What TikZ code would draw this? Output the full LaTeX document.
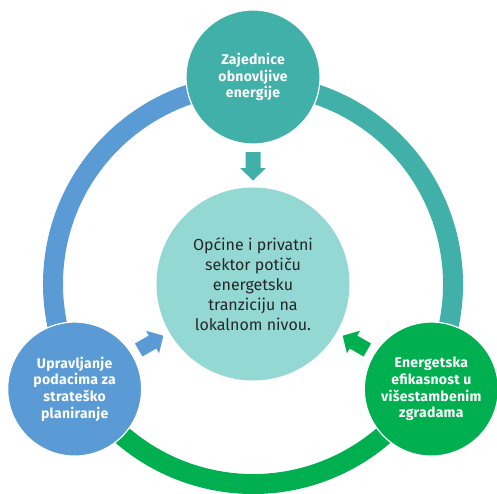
\documentclass[tikz,border=0pt]{standalone}
\usepackage{fontspec}
\setmainfont{Fira Sans}
\newfontfamily\outerfont[LetterSpace=2]{Fira Sans}
\definecolor{cblue}{HTML}{5B9BD5}
\definecolor{cteal}{HTML}{41B0A9}
\definecolor{cgreen}{HTML}{00B050}
\definecolor{clight}{HTML}{93D8D3}
\definecolor{ctext}{HTML}{262626}
\tikzset{
  outer/.style={circle, minimum size=134pt, inner sep=0pt, draw=white, line width=1.2pt,
    text=white, font=\outerfont\fontsize{14}{16.6}\selectfont\bfseries, align=center},
  centre/.style={circle, minimum size=193pt, inner sep=0pt, fill=clight,
    text=ctext, font=\fontsize{16}{20}\selectfont, align=center},
  ringarc/.style={line width=20pt}
}
\begin{document}
\begin{tikzpicture}[x=1pt,y=1pt]
\useasboundingbox (-253,-209) rectangle (244,284);
% ring
\draw[ringarc, cblue] (90:200pt) arc[start angle=90, end angle=210, radius=200pt];
\draw[ringarc, cgreen] (210:200pt) arc[start angle=210, end angle=330, radius=200pt];
\draw[ringarc, cteal] (330:200pt) arc[start angle=-30, end angle=90, radius=200pt];
% nodes
\node[centre] (mid) at (0,0) {Općine i privatni\\sektor potiču\\energetsku\\tranziciju na\\lokalnom nivou.};
\node[outer, fill=cteal] (top) at (90:207pt) {Zajednice\\obnovljive\\energije};
\node[outer, fill=cblue] (left) at (210.5:207pt) {Upravljanje\\podacima za\\strateško\\planiranje};
\node[outer, fill=cgreen] (right) at (329.5:207pt) {Energetska\\efikasnost u\\višestambenim\\zgradama};
% block arrows
\foreach \rot/\col in {0/cteal, 120/cblue, 240/cgreen}{
  \fill[\col, rotate=\rot] (-7.5,132) -- (7.5,132) -- (7.5,116) -- (13,116) -- (0,103.5)
     -- (-13,116) -- (-7.5,116) -- cycle;
}
\end{tikzpicture}
\end{document}
